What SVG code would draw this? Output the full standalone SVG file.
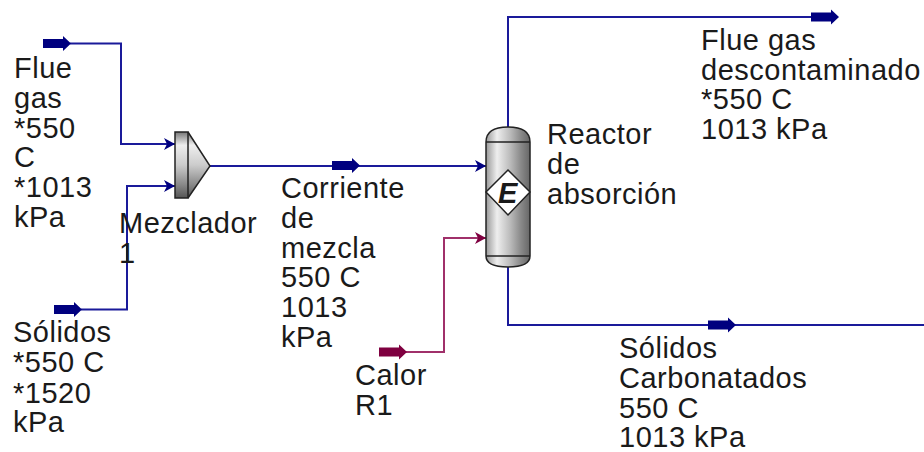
<svg xmlns="http://www.w3.org/2000/svg" width="924" height="452" viewBox="0 0 924 452">
<style>
text{font-family:"Liberation Sans",Arial,sans-serif;font-size:29px;letter-spacing:.5px;fill:#1a1a1a}
.b{fill:none;stroke:#1a1a9a;stroke-width:2}
.m{fill:none;stroke:#a0306a;stroke-width:2}
.o{fill:none;stroke:#222;stroke-width:1.5}
</style>
<defs>
<marker id="ah" markerUnits="userSpaceOnUse" markerWidth="12" markerHeight="14" refX="11" refY="7" orient="auto"><path d="M0 1L11 7L0 13L3 7Z" fill="#00007f"/></marker>
<marker id="ahm" markerUnits="userSpaceOnUse" markerWidth="12" markerHeight="14" refX="11" refY="7" orient="auto"><path d="M0 1L11 7L0 13L3 7Z" fill="#7f0040"/></marker>
<linearGradient id="mg" x1="0" y1="0" x2="0" y2="1"><stop offset="0" stop-color="#777"/><stop offset=".2" stop-color="#eee"/><stop offset=".5" stop-color="#ccc"/><stop offset=".8" stop-color="#888"/><stop offset="1" stop-color="#555"/></linearGradient>
<linearGradient id="rg" x1="0" y1="0" x2="1" y2="0"><stop offset="0" stop-color="#999"/><stop offset=".25" stop-color="#eee"/><stop offset=".55" stop-color="#bbb"/><stop offset=".8" stop-color="#888"/><stop offset="1" stop-color="#666"/></linearGradient>
<path id="fa" d="M0 -4.500H20V-7.500L28 0L20 7.500V4.500H0Z"/>
</defs>
<rect width="924" height="452" fill="#fff"/>
<g id="connectors">
<path class="b" d="M70 43.500H121V144H175" marker-end="url(#ah)"/>
<path class="b" d="M81 309.500H127V186H175" marker-end="url(#ah)"/>
<path class="b" d="M210 166H486" marker-end="url(#ah)"/>
<path class="b" d="M508 127V17H815"/>
<path class="b" d="M508 267V325H924"/>
<path class="m" d="M406 352H444V238H486" marker-end="url(#ahm)"/>
<use href="#fa" x="43" y="43.500" fill="#00007f"/>
<use href="#fa" x="54" y="309.500" fill="#00007f"/>
<use href="#fa" x="332" y="165.500" fill="#00007f"/>
<use href="#fa" x="811" y="17" fill="#00007f"/>
<use href="#fa" x="708" y="325" fill="#00007f"/>
<use href="#fa" x="379" y="352" fill="#7f0040"/>
</g>
<g id="mixer">
<path d="M188 132H175V198H188L210 166Z" fill="url(#mg)"/>
<rect x="175" y="132" width="13" height="66" fill="url(#mg)" stroke="#222" stroke-width="1.500"/>
<path class="o" d="M188 132L210 166L188 198" stroke-width="1"/>
<text x="119" y="233">Mezclador</text>
<text x="119" y="263">1</text>
</g>
<g id="reactor">
<path d="M486 142C486 132 494 127 508 127C522 127 530 132 530 142V256C530 263 522 267 508 267C494 267 486 263 486 256Z" fill="url(#rg)" stroke="#222" stroke-width="1.500"/>
<path class="o" d="M486 142H530M486 256H530"/>
<path d="M508 170L530 192L508 215L486 192Z" fill="#fff" stroke="#222" stroke-width="1.500"/>
<text x="498" y="203" style="font-weight:bold;font-style:italic;font-size:29px">E</text>
<text x="547" y="144">Reactor</text>
<text x="547" y="174">de</text>
<text x="547" y="204">absorción</text>
</g>
<g id="flue-gas-in">
<text x="14" y="78">Flue</text><text x="14" y="108">gas</text><text x="14" y="138">*550</text><text x="14" y="167">C</text><text x="14" y="197">*1013</text><text x="14" y="227">kPa</text>
</g>
<g id="solidos">
<text x="13" y="342">Sólidos</text><text x="13" y="372">*550 C</text><text x="13" y="403">*1520</text><text x="13" y="432">kPa</text>
</g>
<g id="corriente">
<text x="281" y="198">Corriente</text><text x="281" y="228">de</text><text x="281" y="258">mezcla</text><text x="281" y="287">550 C</text><text x="281" y="317">1013</text><text x="281" y="347">kPa</text>
</g>
<g id="calor">
<text x="355" y="385">Calor</text><text x="355" y="415">R1</text>
</g>
<g id="flue-gas-out">
<text x="701" y="50">Flue gas</text><text x="701" y="80">descontaminado</text><text x="701" y="109">*550 C</text><text x="701" y="139">1013 kPa</text>
</g>
<g id="solidos-carb">
<text x="619" y="358">Sólidos</text><text x="619" y="388">Carbonatados</text><text x="619" y="418">550 C</text><text x="619" y="447">1013 kPa</text>
</g>
</svg>
